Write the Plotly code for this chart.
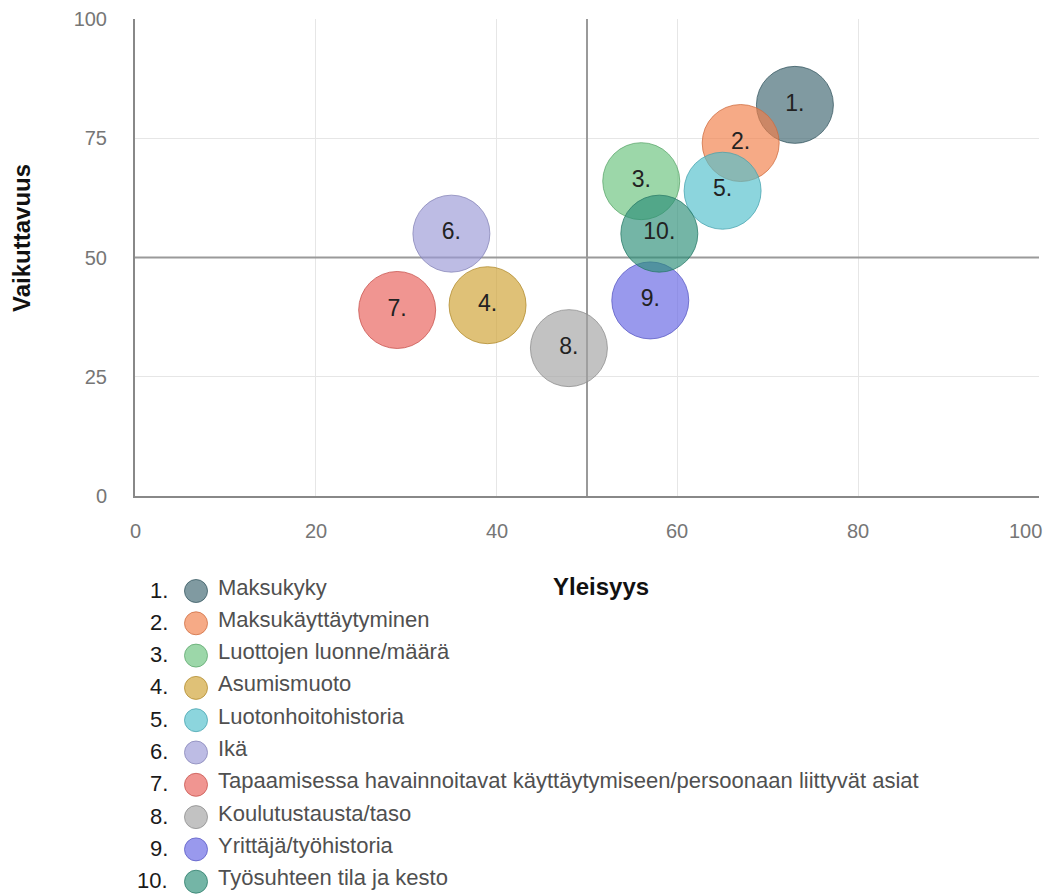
import plotly.graph_objects as go

# Tekijät: yleisyys (x) ja vaikuttavuus (y)
numbers = ["1.", "2.", "3.", "4.", "5.", "6.", "7.", "8.", "9.", "10."]
factors = [
    "Maksukyky",
    "Maksukäyttäytyminen",
    "Luottojen luonne/määrä",
    "Asumismuoto",
    "Luotonhoitohistoria",
    "Ikä",
    "Tapaamisessa havainnoitavat käyttäytymiseen/persoonaan liittyvät asiat",
    "Koulutustausta/taso",
    "Yrittäjä/työhistoria",
    "Työsuhteen tila ja kesto",
]
yleisyys = [73, 67, 56, 39, 65, 35, 29, 48, 57, 58]
vaikuttavuus = [82, 74, 66, 40, 64, 55, 39, 31, 41, 55]

x_ticks = [0, 20, 40, 60, 80, 100]
y_ticks = [0, 25, 50, 75, 100]

# Pohjavärit, piirretään läpikuultavina
base_rgb = [
    (62, 102, 112),
    (242, 126, 72),
    (105, 194, 124),
    (206, 161, 48),
    (81, 191, 204),
    (155, 154, 214),
    (232, 94, 88),
    (162, 162, 162),
    (100, 100, 228),
    (44, 142, 120),
]
fill = [f"rgba({r},{g},{b},0.66)" for r, g, b in base_rgb]
edge = [f"rgba({int(r*0.85)},{int(g*0.85)},{int(b*0.85)},0.75)" for r, g, b in base_rgb]

W, H = 1051, 894
FONT = "Liberation Sans, Arial, sans-serif"

# Piirtoalue pikseleinä
px_left, px_right = 135, 1039
px_top, px_bottom = 19, 496

fig = go.Figure()

# Kuplat
fig.add_trace(go.Scatter(
    x=yleisyys, y=vaikuttavuus,
    mode="markers+text",
    text=numbers,
    textposition="middle center",
    textfont=dict(family=FONT, size=23, color="#222222"),
    marker=dict(size=77, color=fill, line=dict(color=edge, width=1)),
    hoverinfo="skip",
    showlegend=False,
    cliponaxis=False,
    xaxis="x", yaxis="y",
))

# Selite kuvaajan alla (pikselikoordinaatit)
leg_top = 570
row0, row_gap = 591, 32.3
rows = [row0 + i * row_gap for i in range(len(factors))]
fig.add_trace(go.Scatter(
    x=[196] * len(factors), y=rows,
    mode="markers",
    marker=dict(size=23, color=fill, line=dict(color=edge, width=1)),
    hoverinfo="skip",
    showlegend=False,
    xaxis="x2", yaxis="y2",
))

annotations = []
for num, name, yy in zip(numbers, factors, rows):
    annotations.append(dict(
        x=170, y=yy, xref="x2", yref="y2", text=num, showarrow=False,
        xanchor="right", yanchor="middle", yshift=1,
        font=dict(family=FONT, size=22, color="#1a1a1a"),
    ))
    annotations.append(dict(
        x=216, y=yy, xref="x2", yref="y2", text=name, showarrow=False,
        xanchor="left", yanchor="middle", yshift=4,
        font=dict(family=FONT, size=22, color="#505050"),
    ))

# X-akselin tikkien tekstit
for v in x_ticks:
    annotations.append(dict(
        x=v, y=1 - 531 / H, xref="x", yref="paper", text=str(v), showarrow=False,
        xanchor="right" if v == 100 else "center", xshift=5 if v == 100 else 0,
        yanchor="middle",
        font=dict(family=FONT, size=20, color="#767676"),
    ))

# Akselien otsikot
annotations.append(dict(
    x=601 / W, y=1 - 586 / H, xref="paper", yref="paper", text="<b>Yleisyys</b>",
    showarrow=False, xanchor="center", yanchor="middle",
    font=dict(family=FONT, size=24, color="#111111"),
))
annotations.append(dict(
    x=21 / W, y=1 - 238 / H, xref="paper", yref="paper", text="<b>Vaikuttavuus</b>",
    showarrow=False, xanchor="center", yanchor="middle", textangle=-90,
    font=dict(family=FONT, size=24, color="#111111"),
))

# Nelikentän keskiviivat (ruudukon päällä, kuplien alla)
shapes = [
    dict(type="line", xref="x", yref="y", x0=50, x1=50, y0=0, y1=100,
         line=dict(color="#9a9a9a", width=2), layer="between"),
    dict(type="line", xref="x", yref="y", x0=0, x1=100, y0=50, y1=50,
         line=dict(color="#9a9a9a", width=2), layer="between"),
]

fig.update_layout(
    width=W, height=H,
    margin=dict(l=0, r=0, t=0, b=0, pad=0),
    paper_bgcolor="white",
    plot_bgcolor="rgba(0,0,0,0)",
    font=dict(family=FONT),
    annotations=annotations,
    shapes=shapes,
    xaxis=dict(
        domain=[px_left / W, px_right / W], range=[0, 100],
        tickvals=x_ticks, showticklabels=False, automargin=False,
        showgrid=True, gridcolor="#e6e6e6", gridwidth=1,
        zeroline=False, showline=True, linecolor="#888888", linewidth=2,
        fixedrange=True, anchor="y",
    ),
    yaxis=dict(
        domain=[1 - px_bottom / H, 1 - px_top / H], range=[0, 100],
        tickvals=y_ticks, ticks="outside", ticklen=22, tickcolor="rgba(0,0,0,0)",
        tickfont=dict(family=FONT, size=20, color="#767676"), automargin=False,
        showgrid=True, gridcolor="#e6e6e6", gridwidth=1,
        zeroline=False, showline=True, linecolor="#888888", linewidth=2,
        fixedrange=True, anchor="x",
    ),
    xaxis2=dict(domain=[0, 1], range=[0, W], visible=False, anchor="y2",
                fixedrange=True, automargin=False),
    yaxis2=dict(domain=[0, (H - leg_top) / H], range=[H, leg_top], visible=False,
                anchor="x2", fixedrange=True, automargin=False),
    showlegend=False,
)

fig.write_html("out.html")
